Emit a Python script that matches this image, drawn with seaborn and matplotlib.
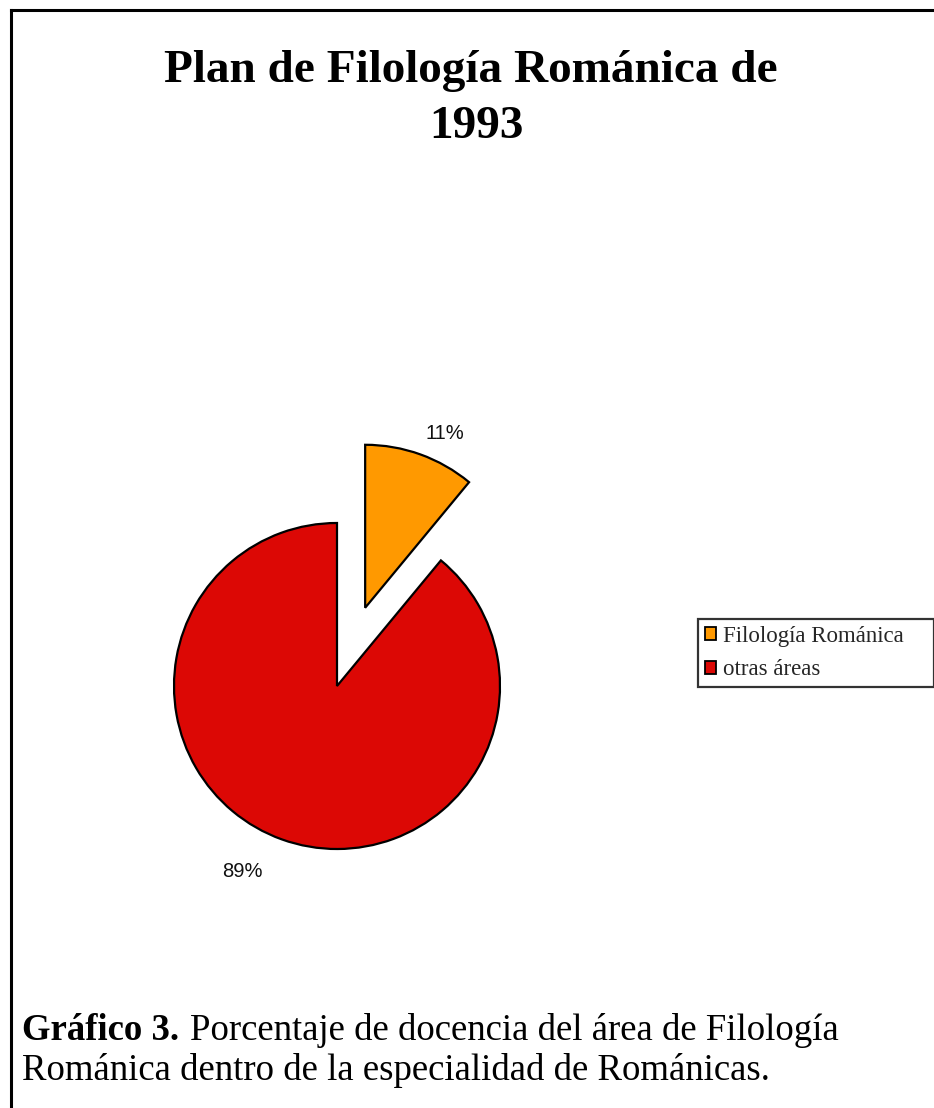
import matplotlib
matplotlib.use("Agg")
import matplotlib.pyplot as plt
import seaborn as sns
from matplotlib.patches import Patch
from matplotlib.lines import Line2D

# Data
categories = ["Filología Románica", "otras áreas"]
shares = [11, 89]
slice_colors = ["#FF9900", "#DC0805"]

sns.set_theme(style="white")
plt.rcParams["font.family"] = ["Liberation Serif", "DejaVu Serif"]

W, H = 934, 1108
DPI = 100
fig = plt.figure(figsize=(W / DPI, H / DPI), dpi=DPI)
fig.patch.set_facecolor("white")


def fx(px):
    return px / W


def fy(py_from_top):
    return 1 - py_from_top / H


# Frame lines (left and top)
fig.add_artist(Line2D([fx(11), fx(11)], [0, fy(9.5)], transform=fig.transFigure,
                      color="black", lw=2.2, solid_capstyle="projecting"))
fig.add_artist(Line2D([fx(11), 1], [fy(9.5), fy(9.5)], transform=fig.transFigure,
                      color="black", lw=2.2, solid_capstyle="projecting"))

# Title
fig.text(fx(470.5), fy(82), "Plan de Filología Románica de", ha="center", va="baseline",
         fontsize=34, fontweight="bold", color="black")
fig.text(fx(476), fy(138), "1993", ha="center", va="baseline",
         fontsize=34, fontweight="bold", color="black")

# Pie axes: centre at (337, 686) px, radius 163 px -> data range [-2, 2]
R = 163
cx, cy = 337, 686
ax = fig.add_axes([fx(cx - 2 * R), fy(cy + 2 * R), 4 * R / W, 4 * R / H])
wedges, texts, autotexts = ax.pie(
    shares,
    colors=slice_colors,
    explode=[0.51, 0.0],
    startangle=90,
    counterclock=False,
    autopct="%1.0f%%",
    pctdistance=1.2,
    wedgeprops=dict(edgecolor="black", linewidth=1.6),
    textprops=dict(fontsize=14.5, family=["Liberation Sans", "DejaVu Sans"], color="#111111"),
)
ax.set_xlim(-2, 2)
ax.set_ylim(-2, 2)
ax.set_aspect("equal")
ax.axis("off")

# Percentage label placement (data units, radius = 1)
label_pos = [(0.66, 1.55), (-0.58, -1.135)]
for t, pos in zip(autotexts, label_pos):
    t.set_position(pos)
    t.set_ha("center")
    t.set_va("center")

# Legend
handles = [Patch(facecolor=c, edgecolor="black", linewidth=1.3) for c in slice_colors]
leg = fig.legend(
    handles, categories,
    loc="upper left",
    bbox_to_anchor=(fx(698), fy(684), 236 / W, 65 / H),
    mode="expand",
    fontsize=16.5,
    frameon=True,
    fancybox=False,
    handlelength=0.5,
    handleheight=0.5,
    handletextpad=0.3,
    labelspacing=0.55,
    borderpad=0.3,
    borderaxespad=0,
)
leg.get_frame().set_edgecolor("black")
leg.get_frame().set_linewidth(1.6)

# Caption
bold = fig.text(fx(22), fy(1040), "Gráfico 3.", ha="left", va="baseline",
                fontsize=26.5, fontweight="bold", color="black")
fig.canvas.draw()
bb = bold.get_window_extent(renderer=fig.canvas.get_renderer())
fig.text((bb.x1 + 11) / W, fy(1040), "Porcentaje de docencia del área de Filología",
         ha="left", va="baseline", fontsize=26.5, color="black")
fig.text(fx(22), fy(1080), "Románica dentro de la especialidad de Románicas.",
         ha="left", va="baseline", fontsize=26.5, color="black")

fig.savefig("out.png", dpi=DPI, facecolor="white")
